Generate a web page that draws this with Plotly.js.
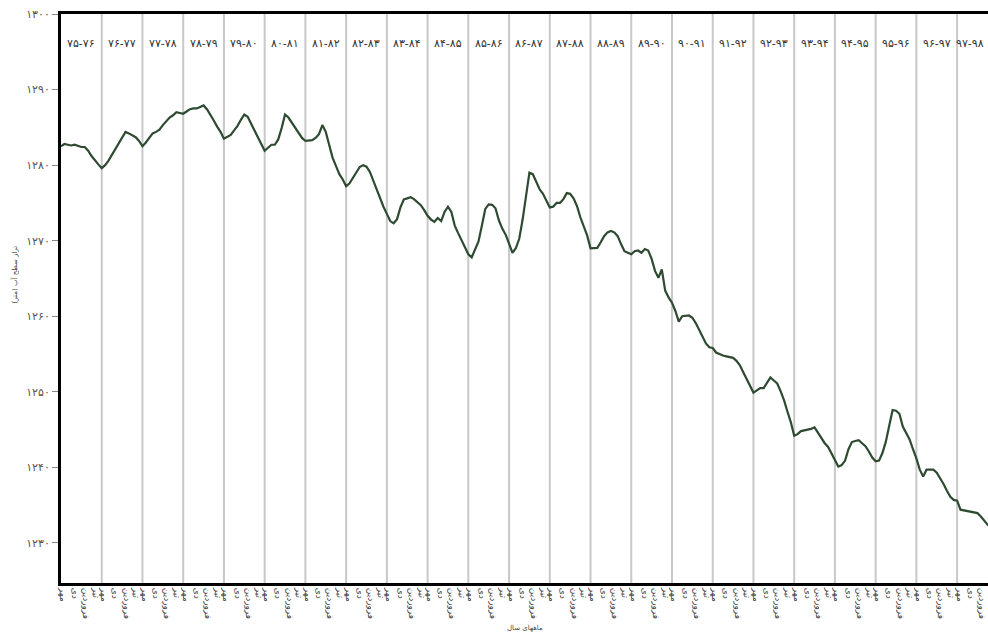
<!DOCTYPE html>
<html>
<head>
<meta charset="utf-8">
<script src="https://cdn.plot.ly/plotly-3.0.1.min.js"></script>
<style>html,body{margin:0;padding:0;background:#fff;}#chart{width:988px;height:644px;}</style>
</head>
<body>
<div id="chart"></div>
<script>
// Water years (Persian calendar), shown at the top of each band
const waterYears = ['۷۵-۷۶','۷۶-۷۷','۷۷-۷۸','۷۸-۷۹','۷۹-۸۰','۸۰-۸۱','۸۱-۸۲','۸۲-۸۳','۸۳-۸۴','۸۴-۸۵','۸۵-۸۶','۸۶-۸۷','۸۷-۸۸','۸۸-۸۹','۸۹-۹۰','۹۰-۹۱','۹۱-۹۲','۹۲-۹۳','۹۳-۹۴','۹۴-۹۵','۹۵-۹۶','۹۶-۹۷','۹۷-۹۸'];
// Month labels shown along the x axis (every 3 months of each water year)
const monthLabels = ['مهر','دی','فروردین','تیر'];
const monthLabelOffsets = [0.7, 4.0, 7.3, 10.2];
// Y axis ticks
const yTickVals = [1230,1240,1250,1260,1270,1280,1290,1300];
const yTickText = ['۱۲۳۰','۱۲۴۰','۱۲۵۰','۱۲۶۰','۱۲۷۰','۱۲۸۰','۱۲۹۰','۱۳۰۰'];
// Monthly groundwater level (m), one row per water year starting in Mehr
const levels = [
 1282.5,1282.8,1282.7,1282.6,1282.7,1282.5,1282.4,1282.4,1281.9,1281.2,1280.6,1280.1,
 1279.6,1280.0,1280.6,1281.4,1282.2,1283.0,1283.7,1284.4,1284.2,1284.0,1283.7,1283.2,
 1282.5,1283.0,1283.6,1284.2,1284.4,1284.7,1285.3,1285.8,1286.3,1286.6,1287.0,1286.9,
 1286.8,1287.1,1287.4,1287.5,1287.5,1287.7,1287.9,1287.4,1286.7,1285.9,1285.1,1284.4,
 1283.5,1283.8,1284.0,1284.6,1285.2,1286.0,1286.7,1286.4,1285.5,1284.6,1283.6,1282.7,
 1281.9,1282.3,1282.7,1282.7,1283.4,1284.9,1286.7,1286.3,1285.6,1284.9,1284.2,1283.6,
 1283.2,1283.25,1283.3,1283.6,1284.1,1285.3,1284.4,1282.7,1281.0,1279.9,1278.8,1278.1,
 1277.2,1277.6,1278.3,1279.0,1279.75,1280.0,1279.8,1279.1,1277.9,1276.7,1275.6,1274.5,
 1273.55,1272.6,1272.3,1272.85,1274.4,1275.45,1275.6,1275.75,1275.5,1275.1,1274.7,1274.05,
 1273.3,1272.8,1272.5,1273.0,1272.6,1273.8,1274.5,1273.8,1272.0,1271.0,1270.0,1269.1,
 1268.2,1267.8,1268.8,1269.9,1272.0,1274.2,1274.8,1274.75,1274.3,1272.7,1271.6,1270.8,
 1269.6,1268.4,1269.0,1270.25,1272.8,1276.2,1279.0,1278.8,1277.7,1276.8,1276.2,1275.2,
 1274.4,1274.5,1275.0,1275.0,1275.5,1276.3,1276.2,1275.6,1274.6,1273.1,1272.0,1270.7,
 1269.0,1269.05,1269.05,1269.8,1270.6,1271.1,1271.3,1271.1,1270.6,1269.55,1268.6,1268.4,
 1268.2,1268.6,1268.7,1268.4,1268.9,1268.7,1267.6,1266.0,1265.1,1266.2,1263.4,1262.5,
 1261.8,1260.7,1259.3,1260.0,1260.1,1260.1,1259.8,1259.1,1258.2,1257.3,1256.4,1255.9,
 1255.8,1255.2,1254.95,1254.8,1254.7,1254.6,1254.5,1254.1,1253.5,1252.6,1251.7,1250.8,
 1249.9,1250.2,1250.5,1250.5,1251.2,1251.9,1251.5,1251.1,1250.1,1248.9,1247.4,1246.0,
 1244.2,1244.4,1244.8,1244.9,1244.9,1245.1,1245.3,1244.6,1243.8,1243.2,1242.7,1241.8,
 1241.0,1240.1,1240.3,1240.9,1242.4,1243.35,1243.5,1243.6,1243.2,1242.8,1242.1,1241.3,
 1240.8,1240.9,1241.9,1243.4,1245.5,1247.6,1247.5,1247.1,1245.4,1244.6,1243.7,1242.4,
 1241.2,1239.7,1238.8,1239.7,1239.7,1239.7,1239.3,1238.6,1237.8,1236.9,1236.1,1235.7,
 1235.6,1234.4,1234.3,1234.2,1234.15,1234.05,1233.95,1233.5,1232.9,1232.4,1232.0
];

const monthIndex = levels.map((_, i) => i);

const tickVals = [], tickText = [];
waterYears.forEach((_, k) => {
  monthLabels.forEach((lab, j) => {
    tickVals.push(12 * k + monthLabelOffsets[j]);
    tickText.push(lab);
  });
});

const font = 'DejaVu Sans, Noto Sans, sans-serif';
const lastYear = waterYears.length - 1;

const annotations = waterYears.map((y, k) => (k === lastYear ? {
  x: 0.998, y: 0.9475, xref: 'paper', yref: 'paper', xanchor: 'right', yanchor: 'middle',
  text: y, showarrow: false,
  font: {family: font, size: 11, color: '#333'}
} : {
  x: 12 * k + 6, y: 0.9475, xref: 'x', yref: 'paper', yanchor: 'middle',
  text: y, showarrow: false,
  font: {family: font, size: 11, color: '#333'}
}));
annotations.push({
  x: (7 - 61) / 927, y: (583 - 275) / 569, xref: 'paper', yref: 'paper',
  text: 'تراز سطح آب (متر)', textangle: -90, showarrow: false,
  font: {family: font, size: 7, color: '#444'}
});
annotations.push({
  x: 0.5, y: (583 - 634) / 569, xref: 'paper', yref: 'paper',
  text: 'ماههای سال', showarrow: false,
  font: {family: font, size: 7, color: '#444'}
});

const trace = {
  x: monthIndex, y: levels, type: 'scatter', mode: 'lines',
  line: {color: '#2e4a30', width: 2.2},
  hoverinfo: 'skip'
};

const layout = {
  width: 988, height: 644,
  margin: {l: 61, r: 0, t: 14, b: 61},
  paper_bgcolor: '#fff', plot_bgcolor: '#fff',
  showlegend: false,
  xaxis: {
    range: [0, 273.1],
    showgrid: false,
    zeroline: false,
    showline: true, linecolor: '#000', linewidth: 3, mirror: true,
    tickmode: 'array', tickvals: tickVals, ticktext: tickText,
    tickangle: 90, ticks: '',
    tickfont: {family: font, size: 9, color: '#444'}
  },
  yaxis: {
    range: [1224.7, 1300],
    showgrid: false, zeroline: false,
    showline: true, linecolor: '#000', linewidth: 3,
    tickmode: 'array', tickvals: yTickVals, ticktext: yTickText,
    ticks: 'outside', ticklen: 6, tickcolor: '#888', tickwidth: 1,
    tickfont: {family: font, size: 11, color: '#555'}
  },
  shapes: waterYears.slice(1).map((_, k) => ({
    type: 'line', xref: 'x', yref: 'paper',
    x0: 12 * (k + 1), x1: 12 * (k + 1), y0: 0, y1: 1,
    line: {color: '#c8c8c8', width: 2}, layer: 'below'
  })),
  annotations: annotations
};

Plotly.newPlot('chart', [trace], layout, {staticPlot: true, displayModeBar: false});
</script>
</body>
</html>
